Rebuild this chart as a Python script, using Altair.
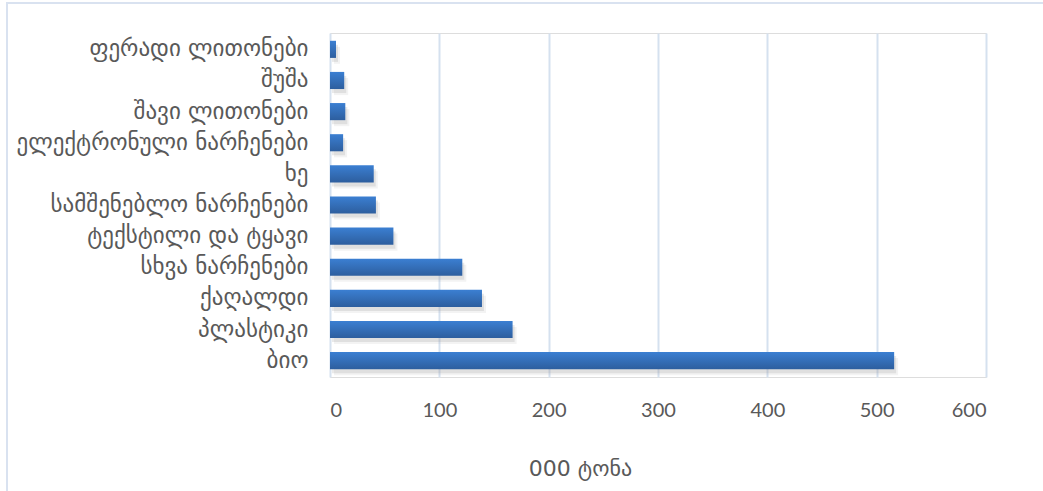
import altair as alt
import pandas as pd

categories = [
    "ფერადი ლითონები",
    "შუშა",
    "შავი ლითონები",
    "ელექტრონული ნარჩენები",
    "ხე",
    "სამშენებლო ნარჩენები",
    "ტექსტილი და ტყავი",
    "სხვა ნარჩენები",
    "ქაღალდი",
    "პლასტიკი",
    "ბიო",
]
values = [5.5, 13, 14, 12, 40, 42, 58, 121, 139, 167, 516]
x_ticks = [0, 100, 200, 300, 400, 500, 600]
x_title = "000 ტონა"

df = pd.DataFrame({"cat": categories, "val": values})

label_font = "DejaVu Sans"
num_font = "Lato"
text_color = "#595959"

y_enc = alt.Y("cat:N", sort=categories, title=None,
              scale=alt.Scale(paddingInner=0.45, paddingOuter=0.25),
              axis=alt.Axis(labelFont=label_font, labelFontSize=23, labelColor=text_color,
                            ticks=False, domain=False, labelPadding=22, labelLimit=400))
x_enc = alt.X("val:Q", title=x_title,
              scale=alt.Scale(domain=[0, 600], nice=False),
              axis=alt.Axis(values=x_ticks, labelFont=num_font, labelFontSize=20,
                            labelColor=text_color, ticks=False, domain=False,
                            labelPadding=23, grid=True, gridColor="#d5e1ef", gridWidth=2,
                            titleFont=label_font, titleFontSize=22, titleColor=text_color,
                            titleFontWeight="normal", titleX=250, titleY=98,
                            titleAlign="center", titleBaseline="alphabetic"))

shadow = alt.Chart(df).mark_bar(color="#9a9a9a", opacity=0.22, yOffset=4, xOffset=2).encode(
    y=y_enc, x=x_enc)
shadow2 = alt.Chart(df).mark_bar(color="#9a9a9a", opacity=0.12, yOffset=6, xOffset=4).encode(
    y=y_enc, x=x_enc)

bars = alt.Chart(df).mark_bar(
    color=alt.Gradient(
        gradient="linear",
        stops=[alt.GradientStop(color="#3b7fd2", offset=0),
               alt.GradientStop(color="#2d5e9e", offset=1)],
        x1=0, x2=0, y1=0, y2=1,
    )
).encode(y=y_enc, x=x_enc)

border_df = pd.DataFrame({"b": [1]})
border = alt.Chart(border_df).mark_rect(filled=False, stroke="#d9e2f0", strokeWidth=2).encode(
    x=alt.value(-323), x2=alt.value(900), y=alt.value(-30), y2=alt.value(800))

chart = alt.layer(border, shadow2, shadow, bars).properties(
    width=656, height=344,
    padding={"left": 330, "top": 33, "right": 57, "bottom": 114},
    autosize=alt.AutoSizeParams(type="none"),
).configure_view(stroke=None).configure(background="white")

chart.save("out.html", embed_options={"renderer": "svg", "actions": False})
